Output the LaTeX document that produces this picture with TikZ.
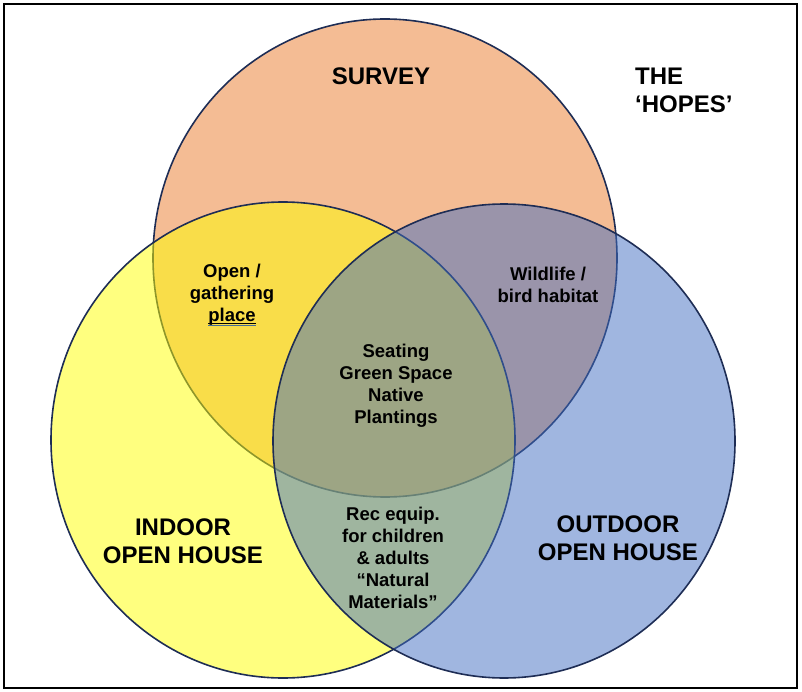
\documentclass[tikz,border=0pt]{standalone}
\usepackage{xcolor}
\usepackage{fontspec}
\setmainfont{Liberation Sans}
\usepackage{tikz}
\usetikzlibrary{shapes,backgrounds,positioning}

\definecolor{surveyorange}{RGB}{233,121,41}
\definecolor{indooryellow}{RGB}{255,255,0}
\definecolor{outdoorblue}{RGB}{65,109,193}
\definecolor{rimnavy}{RGB}{30,45,85}
\definecolor{markblue}{RGB}{70,110,150}

\newcommand{\markword}[1]{\setbox0\hbox{#1}%
  \rlap{\raisebox{-2.6pt}{\color{black}\rule{\wd0}{0.9pt}}}%
  \rlap{\raisebox{-4.4pt}{\color{markblue}\rule{\wd0}{0.7pt}}}#1}

\begin{document}
\begin{tikzpicture}[x=1pt,y=-1pt]
\tikzstyle{setring} = [draw=rimnavy, line width=1.6pt, fill opacity=0.5, draw opacity=1]
\tikzstyle{biglabel} = [align=center, inner sep=0pt, font=\bfseries\fontsize{24}{28}\selectfont]
\tikzstyle{overlap} = [align=center, inner sep=0pt, font=\bfseries\fontsize{18.5}{22}\selectfont]

\useasboundingbox (0,0) rectangle (802,692);
\draw[line width=2.6pt] (4,4) rectangle (797,688);

	% the three sets
	\draw[setring, fill=surveyorange] (385,258) ellipse [x radius=232pt, y radius=239pt];
	\draw[setring, fill=indooryellow] (283,440) ellipse [x radius=232pt, y radius=238pt];
	\draw[setring, fill=outdoorblue] (504,441) ellipse [x radius=231pt, y radius=237pt];

	% set names
	\node [biglabel] (survey) at (381,76) {SURVEY};
	\node [biglabel, align=left, anchor=west] (hopes) at (635,90) {THE\\‘HOPES’};
	\node [biglabel] (indoor) at (183,541) {INDOOR\\OPEN HOUSE};
	\node [biglabel] (outdoor) at (618,538) {OUTDOOR\\OPEN HOUSE};

	% overlaps
	\node [overlap] (gather) at (232,295) {Open /\\gathering\\\markword{place}};
	\node [overlap] (wild) at (548,285) {Wildlife /\\bird habitat};
	\node [overlap] (core) at (396,386) {Seating\\Green Space\\Native\\Plantings};
	\node [overlap] (rec) at (393,558) {Rec equip.\\for children\\\& adults\\“Natural\\Materials”};
\end{tikzpicture}
\end{document}
